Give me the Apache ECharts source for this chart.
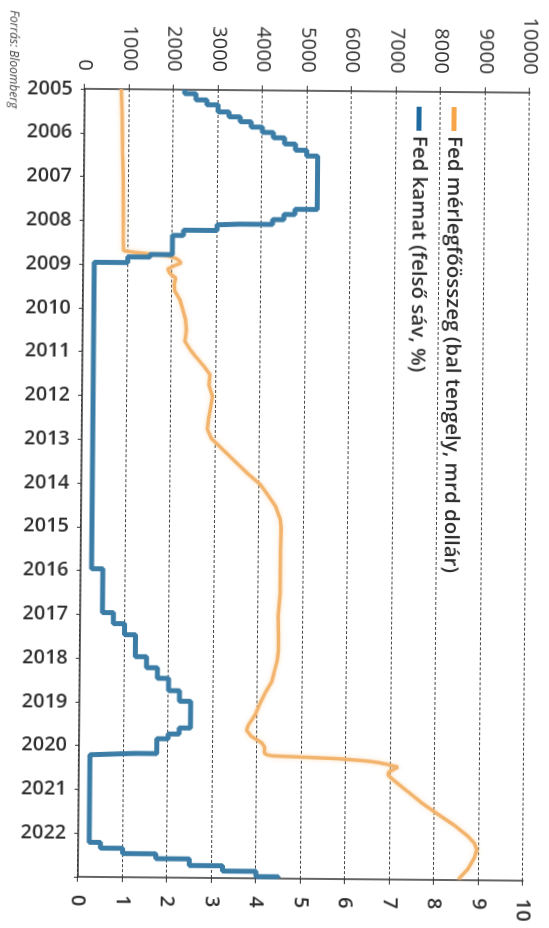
<!DOCTYPE html>
<html>
<head>
<meta charset="utf-8">
<script src="https://cdn.jsdelivr.net/npm/echarts@6/dist/echarts.min.js"></script>
<style>
html,body{margin:0;padding:0;background:#fff;overflow:hidden;width:549px;height:928px;}
#wrap{position:absolute;left:-189.5px;top:189.5px;width:928px;height:549px;transform:rotate(90.5deg);transform-origin:50% 50%;}
</style>
</head>
<body>
<div id="wrap"></div>
<script>
// Fed balance sheet (bn USD) – decimal year / value
const bsDates = [2005.00,2005.5,2006.0,2006.5,2007.0,2007.5,2008.0,2008.5,2008.69,2008.72,2008.74,2008.76,2008.78,2008.80,2008.85,2008.90,2008.96,2009.02,2009.10,2009.20,2009.30,2009.45,2009.60,2009.80,2010.00,2010.25,2010.50,2010.75,2010.95,2011.10,2011.30,2011.50,2011.75,2012.00,2012.25,2012.50,2012.75,2012.97,2013.25,2013.50,2013.75,2014.00,2014.25,2014.50,2014.80,2015.00,2015.5,2016.0,2016.5,2017.0,2017.5,2017.8,2018.0,2018.25,2018.5,2018.75,2019.0,2019.25,2019.5,2019.62,2019.75,2019.9,2020.0,2020.15,2020.18,2020.20,2020.21,2020.23,2020.25,2020.27,2020.29,2020.31,2020.33,2020.37,2020.40,2020.43,2020.46,2020.55,2020.62,2020.75,2021.0,2021.25,2021.5,2021.75,2022.0,2022.15,2022.3,2022.5,2022.75,2022.98];
const bsValues = [820,840,855,865,880,890,895,900,905,1100,1300,1500,1780,1900,2070,2150,2200,2050,1900,1950,2080,2050,2060,2180,2240,2310,2330,2300,2430,2550,2720,2870,2850,2930,2890,2850,2820,2920,3210,3470,3730,4020,4200,4370,4480,4500,4490,4490,4490,4450,4460,4460,4440,4380,4320,4180,4060,3960,3800,3760,3860,4100,4170,4170,4240,4360,4670,5250,5810,6080,6370,6570,6720,6930,7040,7170,7170,6960,6950,7100,7410,7720,8080,8450,8760,8900,8960,8900,8760,8550];
// Fed funds rate upper bound (%) – change dates / new level
const rateDates = [2005.00,2005.09,2005.23,2005.34,2005.50,2005.61,2005.72,2005.84,2005.96,2006.08,2006.22,2006.36,2006.49,2007.71,2007.83,2007.95,2008.06,2008.08,2008.21,2008.33,2008.77,2008.83,2008.96,2015.96,2016.96,2017.21,2017.46,2017.96,2018.21,2018.45,2018.73,2018.97,2019.58,2019.72,2019.83,2020.17,2020.21,2022.21,2022.34,2022.46,2022.57,2022.72,2022.84,2022.96,2022.99];
const rateValues = [2.25,2.5,2.75,3.0,3.25,3.5,3.75,4.0,4.25,4.5,4.75,5.0,5.25,4.75,4.5,4.25,3.5,3.0,2.25,2.0,1.5,1.0,0.25,0.5,0.75,1.0,1.25,1.5,1.75,2.0,2.25,2.5,2.25,2.0,1.75,1.25,0.25,0.5,1.0,1.75,2.5,3.25,4.0,4.5,4.5];
const leftTicks = [0,1000,2000,3000,4000,5000,6000,7000,8000,9000,10000];
const rightTicks = [0,1,2,3,4,5,6,7,8,9,10];
const yearTicks = [2005,2006,2007,2008,2009,2010,2011,2012,2013,2014,2015,2016,2017,2018,2019,2020,2021,2022];
const seriesNames = ['Fed mérlegfőösszeg (bal tengely, mrd dollár)','Fed kamat (felső sáv, %)'];

const bsData = bsDates.map((d,i)=>[d,bsValues[i]]);
const rateData = rateDates.map((d,i)=>[d,rateValues[i]]);

const chart = echarts.init(document.getElementById('wrap'), null, {width:928,height:549,renderer:'canvas'});
const txt = '#2e2e2e';
chart.setOption({
  animation:false,
  backgroundColor:'#fff',
  textStyle:{fontFamily:'Open Sans'},
  title:{text:'Forrás: Bloomberg',left:12,top:534,padding:0,
    textStyle:{fontSize:12,fontStyle:'italic',fontWeight:'normal',color:'#444',fontFamily:'Open Sans'}},
  legend:{orient:'vertical',left:100,top:83,itemWidth:24,itemHeight:5,itemGap:14,icon:'rect',
    textStyle:{fontSize:20.5,fontWeight:600,color:txt,fontFamily:'Open Sans'},
    data:[{name:seriesNames[0],itemStyle:{color:'#F7A548'}},{name:seriesNames[1],itemStyle:{color:'#1E6A9E'}}]},
  grid:{left:90,right:50,top:23,bottom:81},
  xAxis:{type:'value',min:2005,max:2023,interval:1,position:'bottom',
    axisLine:{show:true,lineStyle:{color:'#333',width:1.5}},
    axisTick:{show:true,length:4,lineStyle:{color:'#333'}},
    splitLine:{show:false},
    axisLabel:{rotate:90,margin:12,fontSize:20,fontWeight:600,color:txt,fontFamily:'Open Sans',
      formatter:v=>yearTicks.indexOf(Math.round(v))>=0?String(Math.round(v)):''}},
  yAxis:[
    {type:'value',min:0,max:10000,interval:1000,position:'left',
      axisLine:{show:true,lineStyle:{color:'#333',width:1.5}},
      axisTick:{show:true,length:5,lineStyle:{color:'#333'}},
      splitLine:{show:true,lineStyle:{color:'#444',width:1,type:[3,2]}},
      axisLabel:{margin:18,fontSize:20,color:txt,fontFamily:'Open Sans',
        formatter:v=>leftTicks.indexOf(v)>=0?String(v):''}},
    {type:'value',min:0,max:10,interval:1,position:'right',
      axisLine:{show:true,lineStyle:{color:'#333',width:1.5}},
      axisTick:{show:true,length:5,lineStyle:{color:'#333'}},
      splitLine:{show:false},
      axisLabel:{margin:18,fontSize:20,fontWeight:600,color:txt,fontFamily:'Open Sans',
        formatter:v=>rightTicks.indexOf(v)>=0?String(v):''}}
  ],
  series:[
    {name:seriesNames[0],type:'line',yAxisIndex:0,data:bsData,showSymbol:false,symbol:'none',
      lineStyle:{color:'#F2B36C',width:3.5,shadowBlur:4,shadowColor:'rgba(245,200,140,0.6)'},itemStyle:{color:'#F7A548'}},
    {name:seriesNames[1],type:'line',yAxisIndex:1,data:rateData,step:'end',showSymbol:false,symbol:'none',
      lineStyle:{color:'#3B7DA6',width:5},itemStyle:{color:'#1E6A9E'}}
  ]
});
</script>
</body>
</html>
